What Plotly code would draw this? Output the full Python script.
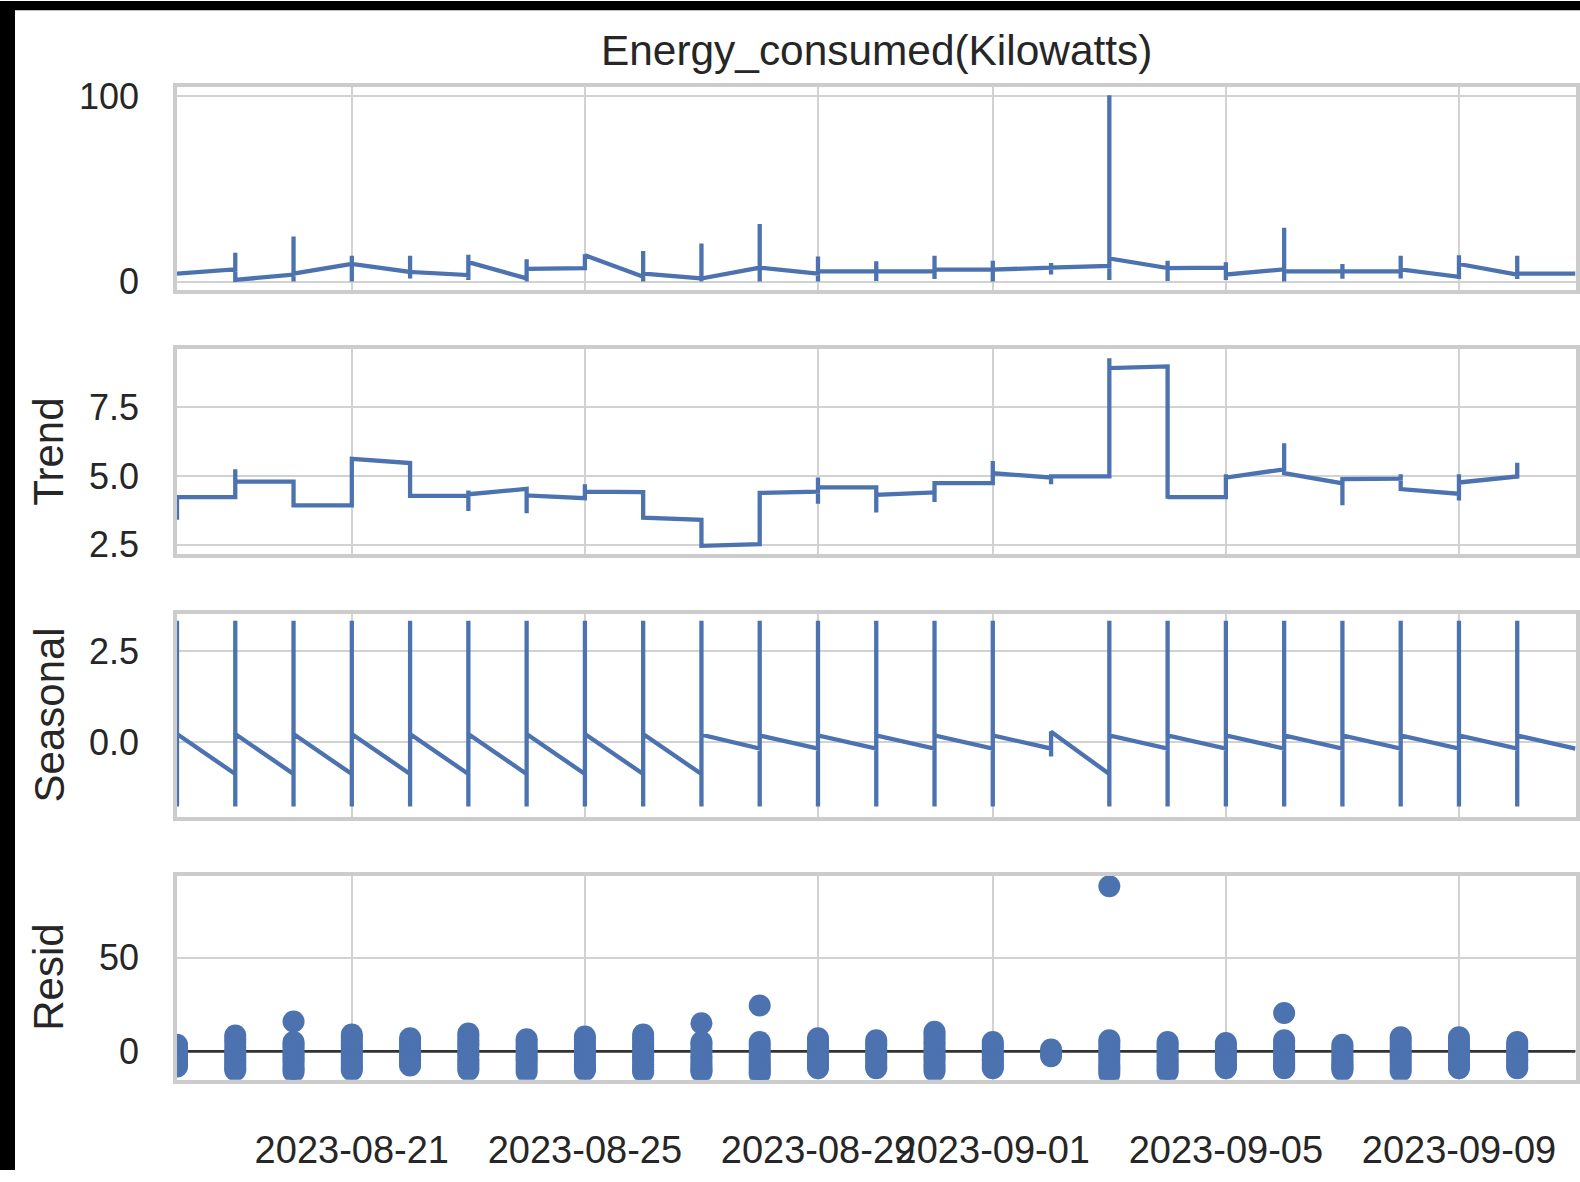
import plotly.graph_objects as go

# ---------------- data ----------------
days = ["2023-08-18", "2023-08-19", "2023-08-20", "2023-08-21", "2023-08-22",
        "2023-08-23", "2023-08-24", "2023-08-25", "2023-08-26", "2023-08-27",
        "2023-08-28", "2023-08-29", "2023-08-30", "2023-08-31", "2023-09-01",
        "2023-09-02", "2023-09-03", "2023-09-04", "2023-09-05", "2023-09-06",
        "2023-09-07", "2023-09-08", "2023-09-09", "2023-09-10", "2023-09-11"]

# values observed within each day, in order (same date stamp -> vertical runs)
observed = [
    [4.3],
    [6.6, 15.6, 0.9],
    [3.8, 24.3, 0.0, 4.3],
    [9.5, 14.0, 0.0, 9.5],
    [5.2, 14.0, 1.7, 5.2],
    [3.5, 14.5, 0.9, 10.5],
    [1.7, 12.0, 0.0, 6.9],
    [7.3, 14.7, 14.2],
    [2.6, 16.5, 0.0, 4.3],
    [1.7, 20.5, 0.0, 1.7],
    [7.5, 31.0, 0.0, 7.5],
    [4.3, 13.5, 0.0, 5.5],
    [5.5, 11.0, 0.3, 5.5],
    [5.5, 14.0, 1.4, 6.5],
    [6.5, 11.3, 0.0, 6.5],
    [7.5, 10.0, 3.8, 7.5],
    [8.5, 100.5, 0.9, 12.5],
    [7.3, 11.3, 0.3, 7.3],
    [7.5, 10.5, 0.9, 3.8],
    [6.6, 29.0, 0.0, 5.5],
    [5.5, 9.5, 1.5, 5.5],
    [5.5, 13.9, 1.7, 6.6],
    [2.6, 14.2, 1.4, 9.5],
    [3.8, 13.9, 1.4, 4.3],
    [4.3],
]

trend = [
    [3.4, 4.23],
    [4.23, 5.24, 4.17, 4.79],
    [4.79, 3.93],
    [3.93, 5.62],
    [5.47, 4.27],
    [4.27, 4.47, 3.72, 4.33],
    [4.53, 3.64, 4.29],
    [4.19, 4.70, 4.43],
    [4.41, 3.48],
    [3.40, 2.45],
    [2.51, 4.38],
    [4.43, 4.94, 3.99, 4.58],
    [4.58, 3.67, 4.31],
    [4.40, 4.05, 4.74],
    [4.74, 5.54, 5.10],
    [4.94, 4.70, 4.98],
    [4.98, 9.29, 8.93],
    [8.99, 4.17, 4.23],
    [4.23, 5.06, 4.94],
    [5.24, 6.19, 5.10],
    [4.73, 3.93, 4.88],
    [4.90, 5.06, 4.52],
    [4.35, 4.10, 5.06, 4.76],
    [4.98, 5.48],
]

seasonal = [
    [3.33, -1.77, 0.22],
    [-0.88, 3.33, -1.77, 0.22],
    [-0.88, 3.33, -1.77, 0.22],
    [-0.88, 3.33, -1.77, 0.22],
    [-0.88, 3.33, -1.77, 0.22],
    [-0.88, 3.33, -1.77, 0.22],
    [-0.88, 3.33, -1.77, 0.22],
    [-0.88, 3.33, -1.77, 0.22],
    [-0.88, 3.33, -1.77, 0.22],
    [-0.88, 3.33, -1.77, 0.20],
    [-0.18, 3.33, -1.77, 0.18],
    [-0.18, 3.33, -1.77, 0.18],
    [-0.18, 3.33, -1.77, 0.18],
    [-0.18, 3.33, -1.77, 0.18],
    [-0.18, 3.33, -1.77, 0.18],
    [-0.18, -0.40, 0.28],
    [-0.88, 3.33, -1.77, 0.18],
    [-0.18, 3.33, -1.77, 0.18],
    [-0.18, 3.33, -1.77, 0.18],
    [-0.18, 3.33, -1.77, 0.18],
    [-0.18, 3.33, -1.77, 0.18],
    [-0.18, 3.33, -1.77, 0.18],
    [-0.18, 3.33, -1.77, 0.18],
    [-0.18, 3.33, -1.77, 0.18],
    [-0.18],
]

resid = [
    [3.5, 1.5, -0.5, -2.5, -4, -5.5, -7, -8],
    [8.5, 6.5, 4.5, 2, 0, -1.5, -3, -4.5, -6, -7.5, -9, -10],
    [16, 5, 3.5, 2, 0, -1.5, -3, -4.5, -6, -8, -9.5, -11],
    [9, 7.5, 6, 4, 2.5, 1, -1, -2.5, -4, -6, -7.5, -9, -10],
    [7, 5.5, 4, 2, 0.5, -1, -2.5, -4, -5, -6.5, -7.5],
    [9.5, 8, 6, 4.5, 3, 1, -0.5, -2, -4, -5.5, -7, -8.5, -10],
    [6.5, 5, 3, 1.5, 0, -2, -3.5, -5, -7, -9, -11],
    [8, 6.5, 5, 3, 1.5, 0, -2, -3.5, -5.5, -7, -8, -9, -10],
    [9, 7, 5.5, 3.5, 2, 0, -2, -3.5, -5, -7, -8.5, -10, -11],
    [15, 5, 3.5, 1.5, 0, -2.5, -4, -6, -7.5, -9, -10, -11],
    [24.5, 5, 3, 1, -1, -3, -5, -6.5, -8, -9.5, -11, -12],
    [7, 5.5, 4, 2, 0.5, -1, -3, -4.5, -6, -7.5, -9],
    [6, 4.5, 3, 1, -0.5, -2, -3.5, -5, -6.5, -8, -9],
    [10.5, 9, 7, 5, 3.5, 1.5, 0, -2, -3.5, -5, -7, -8.5, -10.5],
    [5, 3.5, 2, 0.5, -1, -2.5, -4, -5, -6.5, -8, -9],
    [1, -0.5, -2.5],
    [88, 6, 4.5, 2.5, 0.5, -1.5, -3, -5, -7, -8.5, -10, -12],
    [5, 3.5, 2, 0, -1.5, -3.5, -5, -6.5, -8, -9.5, -11],
    [4.5, 3, 1.5, 0, -1.5, -3, -4.5, -6, -7, -8, -9],
    [20.5, 6, 4.5, 2.5, 1, -1, -2.5, -4.5, -6, -7, -8, -9],
    [3.5, 2, 0.5, -1.5, -3, -4.5, -6, -7, -8, -9, -10],
    [7.5, 6, 4, 2, 0.5, -1.5, -3, -5, -6.5, -8.5, -10.5],
    [7.5, 6, 4, 2, 0.5, -1.5, -3, -4.5, -6, -7.5, -9],
    [5, 3.5, 2, 0.5, -1, -2.5, -4, -5, -6.5, -8, -9],
]

date_ticks = ["2023-08-21", "2023-08-25", "2023-08-29", "2023-09-01",
              "2023-09-05", "2023-09-09"]
panel_titles = ["Trend", "Seasonal", "Resid"]
main_title = "Energy_consumed(Kilowatts)"
y_ticks = [[0, 100], [2.5, 5.0, 7.5], [0.0, 2.5], [0, 50]]
y_ticktext = [["0", "100"], ["2.5", "5.0", "7.5"], ["0.0", "2.5"], ["0", "50"]]


def flatten(groups):
    xs, ys = [], []
    for d, vals in zip(days, groups):
        for v in vals:
            xs.append(d)
            ys.append(v)
    return xs, ys


# ---------------- figure ----------------
W, H = 1580, 1192          # 10px taller: the div is lifted 10px on the page
LIFT = 10
BLUE = "#4C72B0"
TXT = "#262626"
FONT = "Liberation Sans, Arial, sans-serif"
GRID = "#d2d2d2"
SPINE = "#cccccc"
LW = 4.3

x_left, x_right = 177, 1575.5
panels_px = [(88, 295), (355, 564), (625, 832), (892, 1100)]
y_ranges = [[-4.7, 104.8], [2.15, 9.62], [-2.06, 3.52], [-15.1, 93.6]]

fig = go.Figure()

xo, yo = flatten(observed)
fig.add_trace(go.Scatter(x=xo, y=yo, mode="lines", line=dict(color=BLUE, width=LW),
                         xaxis="x", yaxis="y", showlegend=False))
xt, yt = flatten(trend)
fig.add_trace(go.Scatter(x=xt, y=yt, mode="lines", line=dict(color=BLUE, width=LW),
                         xaxis="x2", yaxis="y2", showlegend=False))
xs, ys = flatten(seasonal)
fig.add_trace(go.Scatter(x=xs, y=ys, mode="lines", line=dict(color=BLUE, width=LW),
                         xaxis="x3", yaxis="y3", showlegend=False))
fig.add_trace(go.Scatter(x=[days[0], days[-1]], y=[0, 0], mode="lines",
                         line=dict(color="#333333", width=2.8),
                         xaxis="x4", yaxis="y4", showlegend=False))
xr, yr = flatten(resid)
fig.add_trace(go.Scatter(x=xr, y=yr, mode="markers",
                         marker=dict(color=BLUE, size=22, line=dict(width=0)),
                         xaxis="x4", yaxis="y4", showlegend=False))

layout = dict(
    width=W, height=H,
    margin=dict(l=0, r=0, t=0, b=0),
    paper_bgcolor="white", plot_bgcolor="white",
    font=dict(family=FONT, color=TXT, size=37),
    showlegend=False,
)


def py(p):
    """window pixel row -> paper y"""
    return 1 - p / H


for i, (top, bot) in enumerate(panels_px):
    sfx = "" if i == 0 else str(i + 1)
    layout["xaxis" + sfx] = dict(
        domain=[x_left / W, x_right / W],
        anchor="y" + sfx,
        type="date",
        range=[days[0], days[-1]],
        tickvals=date_ticks, ticktext=date_ticks,
        showticklabels=(i == 3), tickangle=0,
        ticks="", ticklabelstandoff=34,
        tickfont=dict(size=38, color=TXT, family=FONT),
        showgrid=True, gridcolor=GRID, gridwidth=2,
        showline=True, mirror=True, linecolor=SPINE, linewidth=3.5,
        zeroline=False, fixedrange=True,
    )
    layout["yaxis" + sfx] = dict(
        domain=[py(bot), py(top)],
        anchor="x" + sfx,
        range=y_ranges[i],
        tickvals=y_ticks[i], ticktext=y_ticktext[i],
        ticks="", ticklabelstandoff=27,
        tickfont=dict(size=36, color=TXT, family=FONT),
        showgrid=True, gridcolor=GRID, gridwidth=2,
        showline=True, mirror=True, linecolor=SPINE, linewidth=3.5,
        zeroline=False, fixedrange=True,
    )

annotations = [dict(text=main_title, xref="paper", yref="paper",
                    x=(x_left + x_right) / 2 / W, y=py(50),
                    xanchor="center", yanchor="middle", showarrow=False,
                    font=dict(size=42.4, color=TXT, family=FONT))]
for name, (top, bot) in zip(panel_titles, panels_px[1:]):
    annotations.append(dict(text=name, xref="paper", yref="paper",
                            x=49 / W, y=py((top + bot) / 2),
                            xanchor="center", yanchor="middle", textangle=-90,
                            showarrow=False,
                            font=dict(size=42, color=TXT, family=FONT)))
layout["annotations"] = annotations

layout["shapes"] = [
    dict(type="rect", xref="paper", yref="paper", x0=0, x1=15 / W, y0=0, y1=1,
         fillcolor="black", line=dict(width=0), layer="above"),
    dict(type="rect", xref="paper", yref="paper", x0=0, x1=1, y0=py(9.5), y1=1,
         fillcolor="black", line=dict(width=0), layer="above"),
]

fig.update_layout(**layout)
fig.write_html(
    "out.html",
    config={"displayModeBar": False},
    post_script=(
        "document.documentElement.style.margin='0';"
        "document.body.style.margin='0';"
        "document.body.style.overflow='hidden';"
        "var d=document.getElementById('{plot_id}');"
        "d.style.position='absolute';d.style.top='-%dpx';d.style.left='0px';" % LIFT
    ),
)
